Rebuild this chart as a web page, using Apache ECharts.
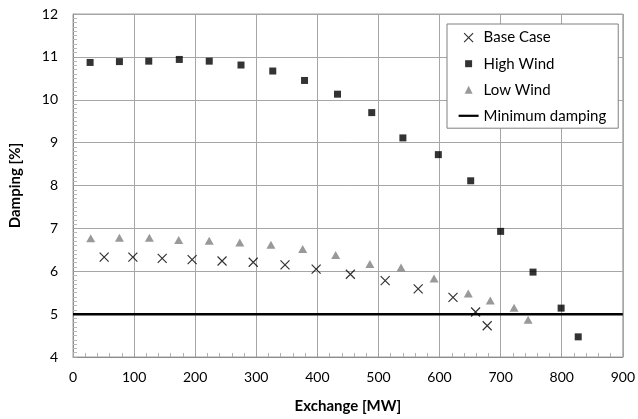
<!DOCTYPE html>
<html><head><meta charset="utf-8">
<script src="https://cdn.jsdelivr.net/npm/echarts@6/dist/echarts.min.js"></script>
<style>html,body{margin:0;padding:0;background:#fff}#c{width:638px;height:419px}</style>
</head><body><div id="c"></div>
<script>
// Data
const baseX = [51, 98, 146, 195, 244, 295, 347, 398, 454, 511, 565, 622, 659, 678];
const baseY = [6.33, 6.33, 6.30, 6.27, 6.24, 6.21, 6.15, 6.05, 5.93, 5.78, 5.59, 5.39, 5.05, 4.73];
const highX = [28, 76, 124, 174, 223, 275, 327, 379, 433, 489, 540, 598, 651, 700, 753, 799, 827];
const highY = [10.87, 10.89, 10.90, 10.94, 10.90, 10.81, 10.67, 10.45, 10.13, 9.70, 9.11, 8.72, 8.11, 6.93, 5.98, 5.14, 4.47];
const lowX = [29, 76, 125, 173, 223, 273, 324, 376, 430, 486, 537, 591, 647, 683, 722, 745];
const lowY = [6.77, 6.78, 6.78, 6.73, 6.71, 6.67, 6.62, 6.52, 6.38, 6.17, 6.09, 5.83, 5.48, 5.32, 5.15, 4.87];
const minX = [0, 900];
const minY = [5, 5];
const seriesNames = ['Base Case', 'High Wind', 'Low Wind', 'Minimum damping'];

const zip = (xs, ys) => xs.map((x, i) => [x, ys[i]]);
const FONT = 'Lato';
const chart = echarts.init(document.getElementById('c'), null, {renderer: 'canvas'});
const xPath = 'path://M0,0L10,10M10,0L0,10';
chart.setOption({
  animation: false,
  backgroundColor: '#fff',
  textStyle: {fontFamily: FONT},
  grid: {left: 68, right: 12, top: 14, bottom: 51, show: true, borderColor: '#a0a0a0', borderWidth: 1},
  xAxis: {
    type: 'value', min: 0, max: 900, interval: 100,
    name: 'Exchange [MW]', nameLocation: 'middle', nameGap: 42,
    nameTextStyle: {fontFamily: FONT, fontWeight: 'bold', fontSize: 15, color: '#000'},
    axisLine: {show: true, lineStyle: {color: '#8c8c8c', width: 1}},
    axisTick: {show: true, inside: true, length: 4, lineStyle: {color: '#a0a0a0'}},
    minorTick: {show: true, splitNumber: 5, length: 4, lineStyle: {color: '#b0b0b0'}},
    axisLabel: {fontFamily: FONT, fontSize: 14, color: '#000', margin: 13},
    splitLine: {show: true, lineStyle: {color: '#a6a6a6', width: 1}}
  },
  yAxis: {
    type: 'value', min: 4, max: 12, interval: 1,
    name: 'Damping [%]', nameLocation: 'middle', nameGap: 50,
    nameTextStyle: {fontFamily: FONT, fontWeight: 'bold', fontSize: 15, color: '#000'},
    axisLine: {show: true, lineStyle: {color: '#8c8c8c', width: 1}},
    axisTick: {show: true, inside: true, length: 4, lineStyle: {color: '#a0a0a0'}},
    minorTick: {show: true, splitNumber: 10, length: 4, lineStyle: {color: '#b8b8b8'}},
    axisLabel: {fontFamily: FONT, fontSize: 14, color: '#000', margin: 15},
    splitLine: {show: true, lineStyle: {color: '#a6a6a6', width: 1}}
  },
  legend: {
    orient: 'vertical', left: 447, top: 24,
    padding: [6, 12, 5, 11],
    backgroundColor: '#fff', borderColor: '#808080', borderWidth: 1,
    itemWidth: 20, itemHeight: 14, itemGap: 11,
    textStyle: {fontFamily: FONT, fontSize: 15, color: '#000', lineHeight: 14},
    data: [
      {name: seriesNames[0], icon: 'path://M0,0M20,14M5.5,2.5L14.5,11.5M14.5,2.5L5.5,11.5',
        itemStyle: {color: 'rgba(0,0,0,0)', borderColor: '#000', borderWidth: 1.2}},
      {name: seriesNames[1], icon: 'path://M0,0M20,14M6.5,3.5h7v7h-7z', itemStyle: {color: '#000', borderWidth: 0}},
      {name: seriesNames[2], icon: 'path://M0,0M20,14M10,3L14,11H6z', itemStyle: {color: '#808080', borderWidth: 0}},
      {name: seriesNames[3], icon: 'path://M0,0M20,14M0,6h20v2.2h-20z', itemStyle: {color: '#000', borderWidth: 0}}
    ]
  },
  series: [
    {name: seriesNames[3], type: 'line', data: zip(minX, minY), symbol: 'none',
      lineStyle: {color: '#000', width: 2.5}, itemStyle: {color: '#000'}, z: 1},
    {name: seriesNames[0], type: 'scatter', data: zip(baseX, baseY), symbol: xPath, symbolSize: 9,
      itemStyle: {color: 'rgba(0,0,0,0)', borderColor: '#000', borderWidth: 1.2}, z: 3},
    {name: seriesNames[1], type: 'scatter', data: zip(highX, highY), symbol: 'rect', symbolSize: 7,
      itemStyle: {color: '#000'}, z: 3},
    {name: seriesNames[2], type: 'scatter', data: zip(lowX, lowY), symbol: 'triangle', symbolSize: [9, 8],
      itemStyle: {color: '#808080'}, z: 3}
  ]
});
</script></body></html>
